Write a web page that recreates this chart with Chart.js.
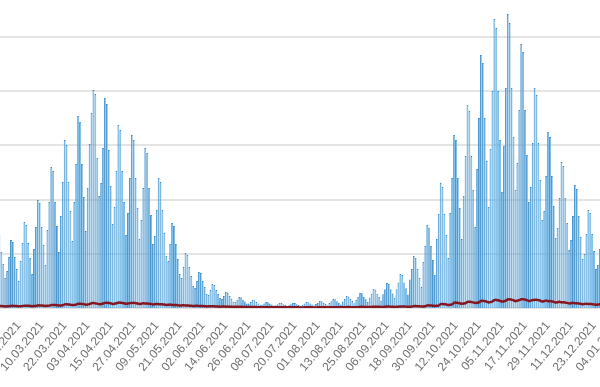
<!DOCTYPE html>
<html>
<head>
<meta charset="utf-8">
<script src="https://cdn.jsdelivr.net/npm/chart.js@4.4.1/dist/chart.umd.min.js"></script>
<style>
html,body{margin:0;padding:0;background:#ffffff;overflow:hidden;}
#wrap{position:relative;width:600px;height:387px;overflow:hidden;background:#ffffff;}
#c{position:absolute;left:-13px;top:0;}
</style>
</head>
<body>
<div id="wrap"><canvas id="c" width="633" height="387"></canvas></div>
<script>
// first category date (10.02.2021), one category per day
const firstDay = [2021, 1, 10];

// tick labels shown on the x axis (every 12 days)
const tickLabels = ['14.02.2021','26.02.2021','10.03.2021','22.03.2021','03.04.2021','15.04.2021','27.04.2021',
  '09.05.2021','21.05.2021','02.06.2021','14.06.2021','26.06.2021','08.07.2021','20.07.2021','01.08.2021',
  '13.08.2021','25.08.2021','06.09.2021','18.09.2021','30.09.2021','12.10.2021','24.10.2021','05.11.2021',
  '17.11.2021','29.11.2021','11.12.2021','23.12.2021','04.01.2022'];

// daily new cases (bars)
const cases = [null,null,null,null,null,null,
  6730,5170,4060,2770,3410,4700,
  6270,6090,4700,3600,2490,4340,6000,
  7930,7660,6000,4610,3140,5440,7470,
  9960,9690,7470,5810,3970,7200,9780,
  13010,12640,9780,7560,5170,8490,11620,
  15500,15040,11620,8950,6180,9780,13280,
  17710,17160,13280,10240,7100,11070,15130,
  17990,20110,19740,13840,10330,11530,14760,
  19370,18820,14580,11250,7750,9320,12640,
  16880,16420,12640,9780,6730,8760,11990,
  15960,15500,11990,9230,6370,8120,11070,
  14760,14300,11070,8580,5900,6640,9040,
  11990,11620,9040,6920,4800,4340,5900,
  7840,7560,5900,4520,3140,2770,3780,
  5070,4890,3780,2950,2030,1850,2490,
  3320,3230,2490,1940,1290,1200,1660,
  2210,2120,1660,1290,920,830,1110,
  1480,1430,1110,860,590,550,770,
  1010,990,770,590,410,410,550,
  740,720,550,420,300,300,420,
  550,540,420,320,220,260,350,
  460,450,350,270,180,260,350,
  460,450,350,270,180,300,420,
  550,540,420,320,220,360,490,
  650,630,490,380,260,460,630,
  830,800,630,480,330,610,830,
  1110,1070,830,650,440,770,1040,
  1380,1350,1040,800,550,970,1320,
  1750,1700,1320,1010,700,1270,1730,
  2310,2240,1730,1340,920,1730,2350,
  3140,3040,2350,1820,1250,2640,3600,
  4800,4610,3600,2770,1940,4240,5720,
  7660,7430,5720,4430,3040,6370,8670,
  11530,11160,8670,6730,4610,8760,11990,
  15960,15500,11990,9230,6370,10330,14020,
  18730,18170,14020,10890,7470,12820,17530,
  23340,22600,17530,13560,9320,14670,20020,
  26660,25830,20020,15500,10700,14940,20300,
  27120,26290,20300,15770,10890,13380,18270,
  24350,23620,18270,14110,9780,11160,15220,
  20300,19650,15220,11810,8120,8950,12180,
  16240,15770,12180,9410,6460,7380,10150,
  13470,13100,10150,7840,5350,6270,8490,
  11350,10980,8490,6550,4520,4980,6830,
  9040,8760,6830,5260,3600,3970,5440,
  7200,
  null,null,null,null,null,null,null,null,null];

// daily deaths (line)
const deaths = [null,null,null,null,null,null,
  187,177,167,146,156,170,
  194,198,187,176,155,166,180,
  211,215,203,191,168,179,195,
  238,242,229,216,189,202,220,
  281,286,270,255,224,239,260,
  335,341,322,304,267,285,310,
  389,396,374,353,310,331,360,
  443,451,426,402,353,377,410,
  475,484,458,431,378,405,440,
  486,495,468,441,387,414,450,
  464,473,447,421,370,396,430,
  410,418,395,372,327,350,380,
  346,352,333,314,275,294,320,
  281,286,270,255,224,239,260,
  227,231,218,206,181,193,210,
  184,187,177,167,146,156,170,
  151,154,146,137,120,129,140,
  124,127,120,113,99,106,115,
  103,105,99,93,82,87,95,
  86,88,83,78,69,74,80,
  76,77,73,69,60,64,70,
  70,72,68,64,56,60,65,
  65,66,62,59,52,55,60,
  65,66,62,59,52,55,60,
  70,72,68,64,56,60,65,
  76,77,73,69,60,64,70,
  86,88,83,78,69,74,80,
  103,105,99,93,82,87,95,
  119,121,114,108,95,101,110,
  130,132,125,118,103,110,120,
  140,143,135,127,112,120,130,
  173,176,166,157,138,147,160,
  238,242,229,216,189,202,220,
  356,363,343,323,284,304,330,
  486,495,468,441,387,414,450,
  572,583,551,519,456,488,530,
  648,660,624,588,516,552,600,
  734,748,707,666,585,626,680,
  788,803,759,715,628,672,730,
  799,814,770,725,636,681,740,
  745,759,718,676,593,635,690,
  626,638,603,568,499,534,580,
  518,528,499,470,413,442,480,
  432,440,416,392,344,368,400,
  367,374,354,333,292,313,340,
  324,
  null,null,null,null,null,null,null,null,null];

// y grid step of the original axis
const yStep = 5000;
const yMax = 28420;

// category labels: one date per data entry
const categories = [];
{
  const t0 = Date.UTC(firstDay[0], firstDay[1], firstDay[2]);
  for (let i = 0; i < cases.length; i++) {
    const dt = new Date(t0 + i * 86400000);
    const dd = String(dt.getUTCDate()).padStart(2, '0');
    const mm = String(dt.getUTCMonth() + 1).padStart(2, '0');
    categories.push(dd + '.' + mm + '.' + dt.getUTCFullYear());
  }
}
const shown = new Set(tickLabels);

// horizontal grid lines at multiples of yStep, placed by the y scale (drawn under the datasets)
const hGrid = {
  id: 'hGrid',
  beforeDatasetsDraw(chart) {
    const y = chart.scales.y;
    const area = chart.chartArea;
    const ctx = chart.ctx;
    ctx.save();
    ctx.strokeStyle = '#e4e4e4';
    ctx.lineWidth = 2;
    for (let v = 0; v <= y.max; v += yStep) {
      const py = Math.round(y.getPixelForValue(v));
      ctx.beginPath();
      ctx.moveTo(area.left, py);
      ctx.lineTo(area.right, py);
      ctx.stroke();
    }
    ctx.restore();
  }
};

Chart.defaults.font.family = '"Liberation Sans", Arial, Helvetica, sans-serif';
Chart.defaults.font.size = 12;
Chart.defaults.color = '#6e6e6e';

new Chart(document.getElementById('c'), {
  type: 'bar',
  plugins: [hGrid],
  data: {
    labels: categories,
    datasets: [
      {
        type: 'line',
        label: 'deaths',
        data: deaths,
        borderColor: '#861620',
        backgroundColor: '#861620',
        borderWidth: 2.5,
        pointRadius: 0,
        tension: 0.2,
        order: 0
      },
      {
        label: 'cases',
        data: cases,
        backgroundColor: '#74b9e7',
        borderColor: '#378bc9',
        borderWidth: { left: 1, right: 0, top: 1, bottom: 0 },
        barPercentage: 0.94,
        categoryPercentage: 1,
        order: 1
      }
    ]
  },
  options: {
    responsive: false,
    animation: false,
    events: [],
    layout: { padding: 0 },
    plugins: { legend: { display: false }, tooltip: { enabled: false }, title: { display: false } },
    scales: {
      x: {
        grid: { display: false },
        border: { display: false },
        ticks: {
          autoSkip: false,
          minRotation: 50,
          maxRotation: 50,
          color: '#6e6e6e',
          callback: function (value, index) {
            const lab = categories[index];
            return shown.has(lab) ? lab : null;
          }
        },
        afterFit: function (s) { s.height = 79; s.paddingLeft = 0; s.paddingRight = 0; }
      },
      y: {
        min: 0,
        max: yMax,
        grid: { display: false, drawTicks: false },
        border: { display: false },
        ticks: { display: false, stepSize: yStep }
      }
    }
  }
});
</script>
</body>
</html>
